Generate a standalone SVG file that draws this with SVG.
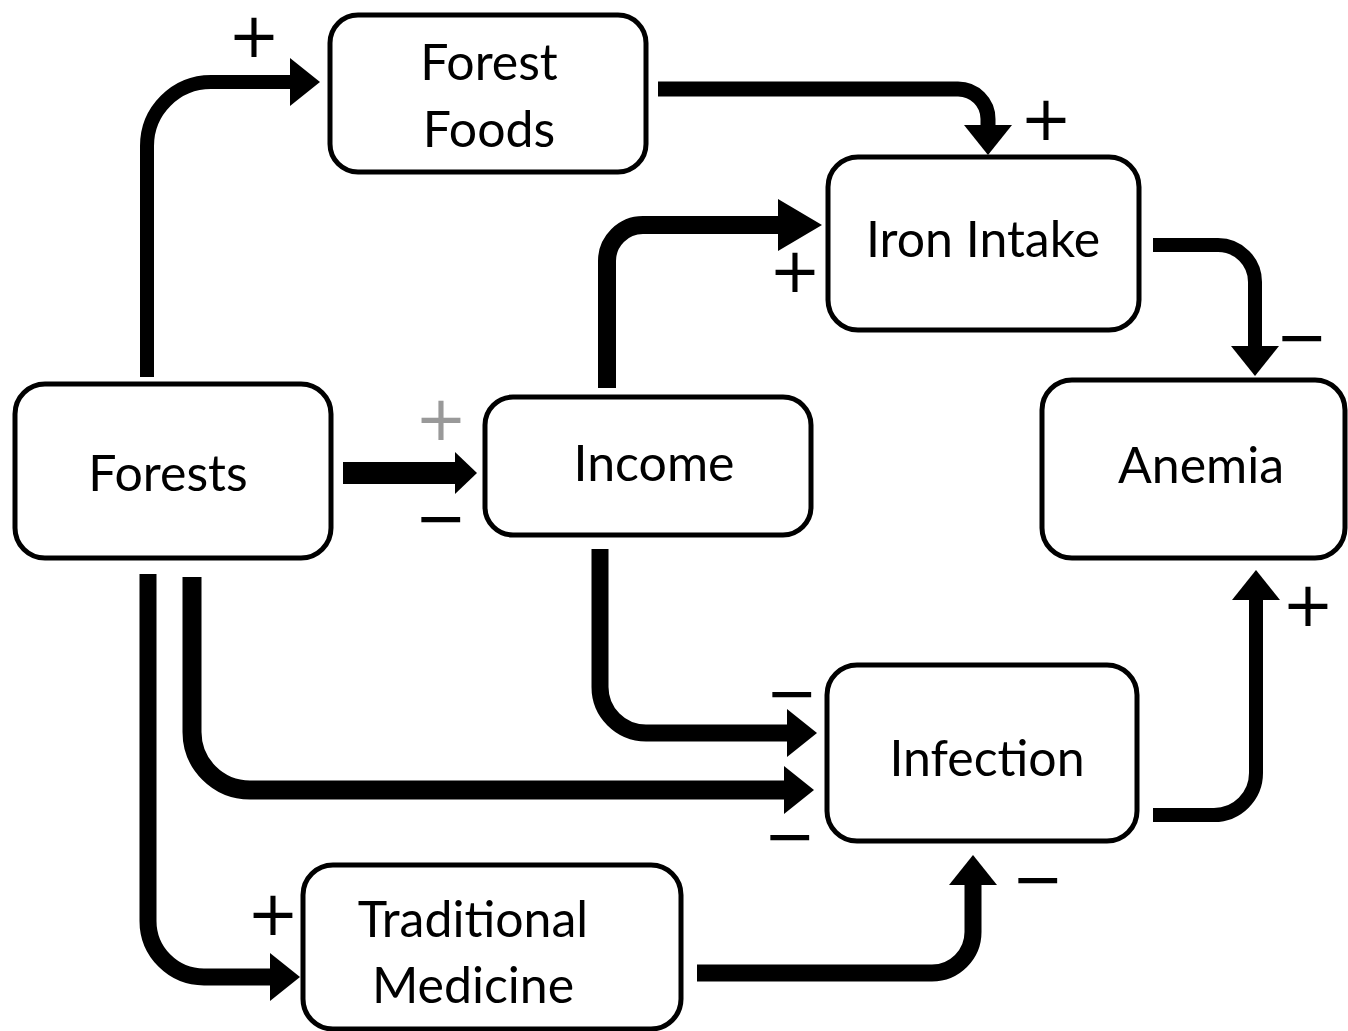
<svg xmlns="http://www.w3.org/2000/svg" width="1348" height="1031" viewBox="0 0 1348 1031">
<defs>
<style>
.box{fill:#fff;stroke:#000;stroke-width:5}
.lbl{font-family:Lato,"Open Sans","Liberation Sans",sans-serif;font-size:50px;fill:#000;text-anchor:middle}
.sign{font-family:"DejaVu Sans","Liberation Sans",sans-serif;font-size:62px;fill:#000;text-anchor:middle}
.grey{fill:#999}
.conn{fill:none;stroke:#000;stroke-linecap:butt}
</style>
<marker id="head" markerUnits="userSpaceOnUse" markerWidth="30" markerHeight="48" viewBox="0 0 30 48" refX="0" refY="24" orient="auto"><path d="M0,0 L30,24 L0,48 Z" fill="#000"/></marker>
<marker id="headL" markerUnits="userSpaceOnUse" markerWidth="44" markerHeight="52" viewBox="0 0 44 52" refX="0" refY="26" orient="auto"><path d="M0,0 L44,26 L0,52 Z" fill="#000"/></marker>
<marker id="headS" markerUnits="userSpaceOnUse" markerWidth="22" markerHeight="42" viewBox="0 0 22 42" refX="0" refY="21" orient="auto"><path d="M0,0 L22,21 L0,42 Z" fill="#000"/></marker>
</defs>
<rect width="1348" height="1031" fill="#fff"/>

<g id="connectors">
<path class="conn" stroke-width="14" d="M147,377 V146 A64,64 0 0 1 211,82 H290" marker-end="url(#head)"/>
<path class="conn" stroke-width="15" d="M658,89 H958 A30,30 0 0 1 988,119 V125" marker-end="url(#head)"/>
<path class="conn" stroke-width="18" d="M607,388 V261 A36,36 0 0 1 643,225 H778" marker-end="url(#headL)"/>
<path class="conn" stroke-width="14" d="M1153,245 H1218 A37,37 0 0 1 1255,282 V346" marker-end="url(#head)"/>
<path class="conn" stroke-width="22" d="M343,473 H455" marker-end="url(#headS)"/>
<path class="conn" stroke-width="17" d="M600,549 V687 A46,46 0 0 0 646,733 H787" marker-end="url(#head)"/>
<path class="conn" stroke-width="19" d="M192,577 V732 A58,58 0 0 0 250,790 H784" marker-end="url(#head)"/>
<path class="conn" stroke-width="17" d="M148,574 V921 A56,56 0 0 0 204,977 H270" marker-end="url(#head)"/>
<path class="conn" stroke-width="17" d="M697,973 H932 A41,41 0 0 0 973,932 V885" marker-end="url(#head)"/>
<path class="conn" stroke-width="14" d="M1153,815 H1214 A42,42 0 0 0 1256,773 V600" marker-end="url(#head)"/>
</g>

<g id="signs">
<text class="sign" x="254" y="57">+</text>
<text class="sign" x="1046" y="140">+</text>
<text class="sign" x="795" y="292">+</text>
<text class="sign" x="1302" y="358">−</text>
<text class="sign grey" x="441" y="440">+</text>
<text class="sign" x="441" y="539">−</text>
<text class="sign" x="1308" y="626">+</text>
<text class="sign" x="792" y="714">−</text>
<text class="sign" x="790" y="857">−</text>
<text class="sign" x="273" y="935">+</text>
<text class="sign" x="1038" y="900">−</text>
</g>

<g id="forest-foods">
<rect class="box" x="330" y="15" width="316" height="157" rx="28"/>
<text class="lbl" x="489" y="80">Forest</text>
<text class="lbl" x="489" y="147">Foods</text>
</g>
<g id="iron-intake">
<rect class="box" x="828" y="157" width="311" height="173" rx="30"/>
<text class="lbl" x="983" y="257">Iron Intake</text>
</g>
<g id="forests">
<rect class="box" x="15" y="384" width="316" height="174" rx="30"/>
<text class="lbl" x="168" y="491">Forests</text>
</g>
<g id="income">
<rect class="box" x="485" y="397" width="326" height="138" rx="28"/>
<text class="lbl" x="654" y="481">Income</text>
</g>
<g id="anemia">
<rect class="box" x="1042" y="380" width="303" height="178" rx="30"/>
<text class="lbl" x="1201" y="483">Anemia</text>
</g>
<g id="infection">
<rect class="box" x="827" y="665" width="310" height="176" rx="30"/>
<text class="lbl" x="987" y="776">Infection</text>
</g>
<g id="traditional-medicine">
<rect class="box" x="303" y="865" width="378" height="164" rx="30"/>
<text class="lbl" x="473" y="937">Traditional</text>
<text class="lbl" x="473" y="1003">Medicine</text>
</g>
</svg>
